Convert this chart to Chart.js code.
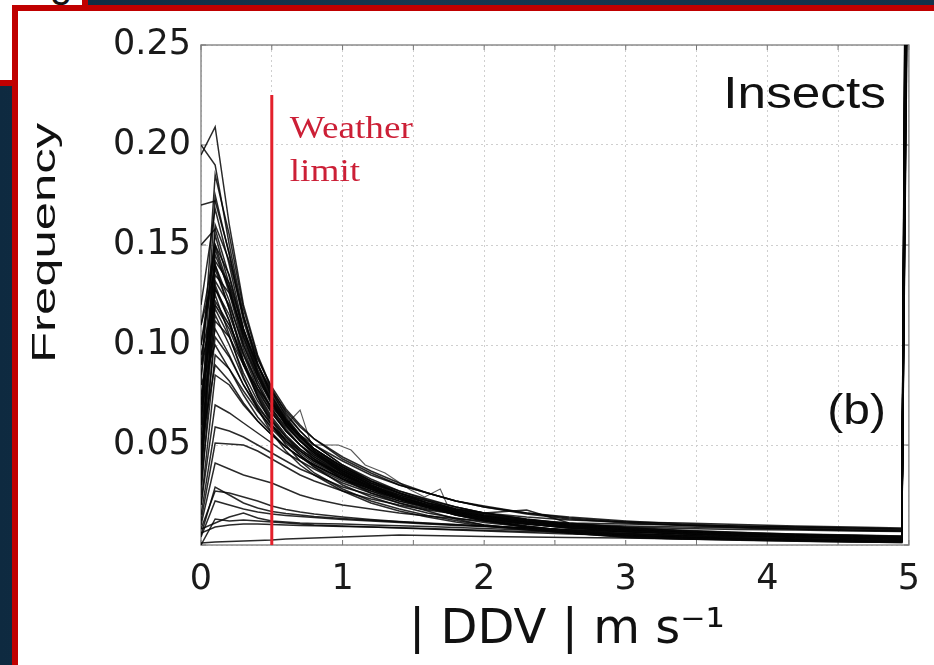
<!DOCTYPE html>
<html>
<head>
<meta charset="utf-8">
<script src="https://cdn.jsdelivr.net/npm/chart.js@4.4.1/dist/chart.umd.min.js"></script>
<style>
  html, body { margin: 0; padding: 0; width: 934px; height: 665px; overflow: hidden; }
  body { position: relative; background: linear-gradient(90deg, #0e2a40 0%, #163850 45%, #12324a 100%); }
  #backSheet { position: absolute; left: -10px; top: -10px; width: 92px; height: 90px; background: #fff;
               border-right: 6px solid #c00000; border-bottom: 6px solid #c00000; overflow: hidden; }
  #backSheet span { position: absolute; left: 60px; top: -27px; font-family: "Liberation Sans"; font-size: 40px; line-height: 40px; color: #111; }
  #sheet { position: absolute; left: 12px; top: 5px; width: 940px; height: 680px; background: #fff;
           border-left: 6px solid #c00000; border-top: 6px solid #c00000; }
  #plot { position: absolute; left: 18px; top: 11px; }
</style>
</head>
<body>
<div id="backSheet"><span>g</span></div>
<div id="sheet"></div>
<canvas id="plot" width="916" height="654"></canvas>
<script>
// |DDV| bin positions (m s-1); the last bin collects everything beyond the axis limit
const binCentres = [0, 0.1, 0.2, 0.3, 0.4, 0.5, 0.6, 0.7, 0.8, 1.0, 1.2, 1.4, 1.6, 1.8, 2.0, 2.3, 2.6, 3.0, 3.4, 3.8, 4.2, 4.6, 4.95, 4.99];

// insect profiles with a clear peak near 0.1 m s-1
const strongProfiles = [
  [0.195,0.209,0.160,0.120,0.095,0.078,0.066,0.057,0.050,0.040,0.032,0.026,0.021,0.017,0.014,0.011,0.009,0.007,0.006,0.005,0.0042,0.0036,0.003,0.40],
  [0.200,0.190,0.150,0.115,0.090,0.074,0.063,0.055,0.048,0.038,0.030,0.024,0.019,0.015,0.012,0.009,0.007,0.0055,0.0045,0.0035,0.003,0.0024,0.002,0.45],
  [0.080,0.185,0.155,0.118,0.094,0.077,0.064,0.055,0.048,0.039,0.031,0.025,0.020,0.017,0.014,0.012,0.0105,0.0095,0.009,0.0085,0.008,0.0075,0.007,0.38],
  [0.060,0.175,0.145,0.112,0.090,0.074,0.062,0.054,0.047,0.037,0.030,0.024,0.019,0.016,0.013,0.0105,0.0085,0.007,0.0058,0.005,0.0042,0.0038,0.0032,0.50],
  [0.120,0.168,0.140,0.108,0.087,0.072,0.061,0.053,0.046,0.036,0.029,0.024,0.019,0.015,0.012,0.009,0.006,0.004,0.003,0.0025,0.002,0.0015,0.0012,0.36],
  [0.050,0.160,0.142,0.114,0.093,0.079,0.068,0.060,0.053,0.043,0.036,0.030,0.026,0.022,0.019,0.016,0.014,0.012,0.0105,0.0095,0.009,0.0085,0.008,0.42],
  [0.090,0.155,0.130,0.104,0.085,0.071,0.060,0.052,0.046,0.037,0.030,0.024,0.020,0.016,0.0135,0.011,0.009,0.0072,0.006,0.005,0.0045,0.004,0.0035,0.33],
  [0.040,0.150,0.135,0.108,0.088,0.073,0.062,0.054,0.047,0.038,0.031,0.026,0.021,0.018,0.016,0.0175,0.011,0.0085,0.007,0.006,0.005,0.0045,0.004,0.47],
  [0.100,0.148,0.126,0.100,0.082,0.068,0.058,0.050,0.043,0.033,0.026,0.021,0.017,0.013,0.010,0.008,0.006,0.0045,0.0035,0.003,0.0025,0.002,0.0018,0.31],
  [0.070,0.145,0.128,0.104,0.086,0.072,0.062,0.054,0.048,0.039,0.032,0.026,0.022,0.018,0.015,0.0125,0.011,0.0105,0.010,0.0095,0.009,0.0085,0.008,0.44],
  [0.030,0.140,0.122,0.098,0.080,0.067,0.057,0.050,0.044,0.035,0.029,0.024,0.020,0.017,0.014,0.0115,0.0095,0.0078,0.0064,0.0054,0.0046,0.004,0.0036,0.39],
  [0.110,0.138,0.118,0.095,0.078,0.066,0.057,0.050,0.044,0.036,0.029,0.024,0.020,0.0165,0.0138,0.011,0.009,0.0074,0.0062,0.0052,0.0046,0.004,0.0036,0.35],
  [0.060,0.135,0.126,0.106,0.090,0.077,0.067,0.059,0.053,0.044,0.037,0.031,0.026,0.022,0.019,0.0155,0.013,0.011,0.0098,0.0088,0.008,0.0074,0.007,0.41],
  [0.085,0.130,0.112,0.091,0.075,0.063,0.054,0.047,0.042,0.034,0.028,0.023,0.019,0.016,0.0125,0.0095,0.007,0.0045,0.0035,0.0028,0.0022,0.0018,0.0015,0.37],
  [0.045,0.128,0.115,0.096,0.080,0.068,0.059,0.052,0.046,0.038,0.031,0.026,0.022,0.018,0.0155,0.0125,0.010,0.0082,0.0068,0.0057,0.005,0.0044,0.0039,0.43],
  [0.095,0.125,0.105,0.084,0.068,0.056,0.047,0.040,0.035,0.027,0.021,0.017,0.014,0.0115,0.0095,0.0075,0.006,0.0045,0.0036,0.003,0.0025,0.0021,0.0018,0.34],
  [0.035,0.122,0.110,0.092,0.077,0.066,0.057,0.050,0.045,0.037,0.030,0.025,0.021,0.0175,0.015,0.012,0.010,0.009,0.0082,0.0078,0.0075,0.007,0.0068,0.46],
  [0.075,0.118,0.104,0.086,0.072,0.062,0.054,0.048,0.043,0.035,0.029,0.024,0.020,0.017,0.0145,0.0118,0.0096,0.0078,0.0064,0.0054,0.0047,0.0041,0.0036,0.32],
  [0.055,0.115,0.100,0.083,0.070,0.060,0.052,0.046,0.041,0.034,0.028,0.023,0.019,0.016,0.0138,0.0112,0.0092,0.0075,0.0062,0.0052,0.0045,0.004,0.0035,0.40],
  [0.025,0.112,0.104,0.090,0.078,0.069,0.061,0.055,0.050,0.042,0.035,0.030,0.026,0.022,0.0195,0.016,0.0135,0.0115,0.010,0.009,0.0085,0.008,0.0075,0.48],
  [0.065,0.108,0.095,0.080,0.068,0.058,0.051,0.045,0.040,0.033,0.027,0.023,0.019,0.015,0.0125,0.0095,0.007,0.005,0.004,0.0032,0.0026,0.0021,0.0018,0.36],
  [0.040,0.104,0.094,0.080,0.069,0.060,0.053,0.047,0.042,0.035,0.029,0.024,0.020,0.017,0.0145,0.0118,0.0097,0.0079,0.0065,0.0055,0.0048,0.0042,0.0037,0.30],
  [0.080,0.100,0.088,0.075,0.064,0.056,0.049,0.044,0.039,0.032,0.027,0.022,0.0185,0.0157,0.0134,0.011,0.009,0.0074,0.0062,0.0052,0.0045,0.004,0.0035,0.38],
  [0.030,0.095,0.088,0.077,0.067,0.059,0.052,0.047,0.042,0.035,0.029,0.025,0.021,0.0178,0.016,0.014,0.0125,0.0115,0.011,0.0102,0.0095,0.009,0.0085,0.42],
  [0.050,0.090,0.082,0.071,0.062,0.055,0.049,0.044,0.040,0.033,0.028,0.023,0.0195,0.0165,0.014,0.0115,0.0094,0.0077,0.0064,0.0054,0.0047,0.0041,0.0036,0.35],
  [0.020,0.085,0.080,0.070,0.062,0.055,0.049,0.044,0.040,0.033,0.028,0.0235,0.020,0.017,0.0145,0.0118,0.0097,0.008,0.0066,0.0056,0.0049,0.0043,0.0038,0.44],
  [0.110,0.150,0.128,0.102,0.084,0.070,0.060,0.052,0.046,0.036,0.029,0.023,0.019,0.0155,0.0125,0.009,0.006,0.0038,0.003,0.0024,0.0019,0.0015,0.0012,0.37],
  [0.065,0.142,0.131,0.108,0.090,0.076,0.065,0.057,0.050,0.040,0.033,0.027,0.023,0.019,0.016,0.013,0.0105,0.0086,0.0072,0.0062,0.0055,0.005,0.0045,0.41],
  [0.040,0.132,0.120,0.100,0.084,0.071,0.061,0.054,0.048,0.039,0.032,0.027,0.0225,0.019,0.016,0.0128,0.0104,0.0085,0.007,0.006,0.0053,0.0047,0.0042,0.39],
  [0.090,0.120,0.108,0.090,0.076,0.064,0.055,0.048,0.043,0.035,0.028,0.023,0.019,0.0158,0.0132,0.0106,0.0086,0.007,0.0058,0.0049,0.0043,0.0038,0.0033,0.33],
  [0.150,0.158,0.134,0.106,0.086,0.071,0.060,0.052,0.045,0.036,0.029,0.0235,0.019,0.0158,0.013,0.0105,0.0085,0.0069,0.0057,0.0048,0.0042,0.0037,0.0032,0.40],
  [0.170,0.172,0.146,0.114,0.091,0.075,0.063,0.054,0.047,0.037,0.030,0.024,0.0195,0.016,0.0132,0.0106,0.0086,0.007,0.0058,0.0049,0.0043,0.0038,0.0033,0.43],
  [0.100,0.140,0.118,0.092,0.074,0.060,0.050,0.042,0.036,0.028,0.022,0.018,0.0148,0.0122,0.010,0.008,0.0065,0.005,0.004,0.0033,0.0028,0.0024,0.002,0.36],
  [0.070,0.128,0.112,0.090,0.074,0.062,0.052,0.045,0.039,0.030,0.024,0.0195,0.016,0.0135,0.0112,0.009,0.0073,0.0058,0.0047,0.0039,0.0033,0.0028,0.0024,0.40]
];

// flatter, weaker profiles lying under the main bundle
const weakProfiles = [
  [0.001,0.0015,0.0018,0.002,0.0022,0.0025,0.003,0.0032,0.0035,0.004,0.0045,0.005,0.0048,0.0045,0.0042,0.004,0.0038,0.0035,0.003,0.0028,0.0025,0.0022,0.002,0.30],
  [0.006,0.009,0.010,0.0105,0.0105,0.0102,0.010,0.0098,0.0096,0.0093,0.009,0.0086,0.0082,0.0078,0.0074,0.0068,0.0062,0.0055,0.0048,0.0042,0.0037,0.0032,0.0028,0.28],
  [0.008,0.011,0.014,0.016,0.0135,0.012,0.0115,0.011,0.0108,0.0105,0.010,0.0096,0.0092,0.0088,0.0083,0.0075,0.0067,0.0058,0.005,0.0043,0.0038,0.0033,0.0029,0.33],
  [0.004,0.022,0.020,0.018,0.0165,0.0155,0.0148,0.0142,0.0137,0.0128,0.012,0.0112,0.0105,0.0098,0.0092,0.0083,0.0074,0.0064,0.0056,0.0049,0.0043,0.0038,0.0033,0.35],
  [0.005,0.029,0.025,0.021,0.0185,0.0168,0.0158,0.015,0.0143,0.0133,0.0124,0.0116,0.0108,0.0101,0.0094,0.0085,0.0076,0.0066,0.0057,0.005,0.0044,0.0039,0.0034,0.31],
  [0.008,0.027,0.026,0.024,0.022,0.0195,0.0178,0.0165,0.0155,0.014,0.0128,0.0118,0.011,0.0102,0.0095,0.0086,0.0077,0.0066,0.0058,0.005,0.0044,0.0039,0.0034,0.37],
  [0.010,0.041,0.038,0.035,0.033,0.031,0.028,0.025,0.023,0.020,0.018,0.016,0.0145,0.0132,0.012,0.0105,0.0092,0.0077,0.0065,0.0056,0.0048,0.0042,0.0037,0.40],
  [0.012,0.051,0.0505,0.050,0.047,0.043,0.039,0.035,0.032,0.027,0.023,0.020,0.0175,0.0155,0.014,0.0118,0.0099,0.0082,0.0069,0.0058,0.005,0.0044,0.0038,0.34],
  [0.015,0.059,0.057,0.054,0.050,0.046,0.042,0.038,0.035,0.029,0.025,0.021,0.018,0.0158,0.014,0.0116,0.0097,0.008,0.0067,0.0057,0.0049,0.0043,0.0037,0.39],
  [0.020,0.070,0.066,0.061,0.056,0.051,0.046,0.042,0.038,0.031,0.026,0.022,0.019,0.0162,0.014,0.0115,0.0095,0.0078,0.0065,0.0055,0.0048,0.0042,0.0036,0.43],
  [0.000,0.013,0.012,0.0125,0.012,0.0115,0.011,0.0105,0.010,0.0095,0.009,0.0085,0.008,0.0075,0.007,0.0062,0.0055,0.0047,0.004,0.0034,0.003,0.0026,0.0022,0.29]
];

// one irregular profile with bumps near 0.7 and 1.7 m s-1
const outlierX = [0, 0.1, 0.2, 0.3, 0.4, 0.5, 0.6, 0.7, 0.78, 0.97, 1.06, 1.16, 1.3, 1.48, 1.58, 1.69, 1.74, 2.0, 2.3, 2.6, 3.0, 3.4, 3.8, 4.2, 4.6, 4.95, 4.99];
const outlierY = [0.070, 0.120, 0.110, 0.095, 0.082, 0.072, 0.060, 0.0675, 0.050, 0.050, 0.0475, 0.040, 0.036, 0.0275, 0.024, 0.028, 0.020, 0.016, 0.013, 0.011, 0.009, 0.0075, 0.0065, 0.0055, 0.005, 0.0045, 0.35];

// weather / insect separation threshold
const weatherLimit = 0.5;
const weatherLimitTop = 0.225;

const xTickLabels = ['0', '1', '2', '3', '4', '5'];
const yTickLabels = ['0.05', '0.10', '0.15', '0.20', '0.25'];

const profileColour = 'rgba(5,5,5,0.85)';
const toPoints = (xs, ys) => xs.map((x, i) => ({ x: x, y: ys[i] }));

const datasets = [];
datasets.push({
  label: 'Weather limit',
  data: [{ x: weatherLimit, y: 0 }, { x: weatherLimit, y: weatherLimitTop }],
  borderColor: '#e3202b', borderWidth: 3, order: -1
});
strongProfiles.concat(weakProfiles).forEach((p, i) => {
  datasets.push({ label: 'profile ' + (i + 1), data: toPoints(binCentres, p), borderColor: profileColour, borderWidth: 1.5 });
});
datasets.push({ label: 'profile ' + (datasets.length), data: toPoints(outlierX, outlierY), borderColor: 'rgba(60,60,60,0.85)', borderWidth: 1.1 });

// box, inward ticks and in-axes labels
const annotate = {
  id: 'annotate',
  beforeDatasetsDraw(chart) {
    const { ctx, chartArea: a, scales } = chart;
    ctx.save();
    ctx.strokeStyle = '#8c8c8c';
    ctx.lineWidth = 1.5;
    ctx.strokeRect(a.left, a.top, a.right - a.left, a.bottom - a.top);
    ctx.lineWidth = 1;
    ctx.strokeStyle = '#777';
    ctx.beginPath();
    scales.x.ticks.forEach(t => {
      const px = scales.x.getPixelForValue(t.value);
      ctx.moveTo(px, a.bottom); ctx.lineTo(px, a.bottom - 5);
      ctx.moveTo(px, a.top); ctx.lineTo(px, a.top + 5);
    });
    scales.y.ticks.forEach(t => {
      const py = scales.y.getPixelForValue(t.value);
      ctx.moveTo(a.left, py); ctx.lineTo(a.left + 5, py);
      ctx.moveTo(a.right, py); ctx.lineTo(a.right - 5, py);
    });
    ctx.stroke();
    ctx.restore();
  },
  afterDatasetsDraw(chart) {
    const { ctx, chartArea: a, scales } = chart;
    ctx.save();
    ctx.fillStyle = '#111';
    ctx.textAlign = 'right';
    ctx.textBaseline = 'alphabetic';
    // "Insects"
    ctx.save();
    ctx.translate(a.right - 23, a.top + 63);
    ctx.scale(1.14, 1);
    ctx.font = '45px "Liberation Sans"';
    ctx.fillText('Insects', 0, 0);
    ctx.restore();
    // panel tag
    ctx.save();
    ctx.translate(a.right - 23, scales.y.getPixelForValue(0.0605));
    ctx.scale(1.14, 1);
    ctx.font = '42px "Liberation Sans"';
    ctx.fillText('(b)', 0, 0);
    ctx.restore();
    // threshold label
    const lx = scales.x.getPixelForValue(weatherLimit) + 18;
    ctx.fillStyle = '#cc1f36';
    ctx.textAlign = 'left';
    ctx.font = '31px "Liberation Serif"';
    [['Weather', 0.2035], ['limit', 0.182]].forEach(([txt, v]) => {
      ctx.save();
      ctx.translate(lx, scales.y.getPixelForValue(v));
      ctx.scale(1.2, 1);
      ctx.fillText(txt, 0, 0);
      ctx.restore();
    });
    ctx.restore();
  },
  afterDraw(chart) {
    // y-axis title
    const { ctx } = chart;
    ctx.save();
    ctx.translate(37, 232);
    ctx.rotate(-Math.PI / 2);
    ctx.scale(1.54, 1);
    ctx.font = '33px "Liberation Sans"';
    ctx.fillStyle = '#111';
    ctx.textAlign = 'center';
    ctx.textBaseline = 'alphabetic';
    ctx.fillText('Frequency', 0, 0);
    ctx.restore();
  }
};

new Chart(document.getElementById('plot'), {
  type: 'line',
  data: { datasets: datasets },
  options: {
    responsive: false,
    animation: false,
    devicePixelRatio: 1,
    layout: { padding: { top: 34, right: 17, left: 0, bottom: 0 } },
    elements: { point: { radius: 0 }, line: { tension: 0 } },
    plugins: { legend: { display: false }, tooltip: { enabled: false } },
    scales: {
      x: {
        type: 'linear', min: 0, max: 5,
        afterFit(scale) { scale.height = 120; },
        grid: { color: '#cfcfcf', lineWidth: 1, drawTicks: false },
        border: { display: false, dash: [2, 3] },
        ticks: {
          stepSize: 0.5, padding: 14, color: '#1a1a1a', maxRotation: 0, autoSkip: false,
          font: { family: 'DejaVu Sans', size: 35 },
          callback: v => (Number.isInteger(v) ? xTickLabels[v] : '')
        },
        title: {
          display: true, text: '\u2002| DDV | m s\u207B\u00B9', color: '#111',
          font: { family: 'DejaVu Sans', size: 48 }, padding: { top: 0, bottom: 6 }
        }
      },
      y: {
        type: 'linear', min: 0, max: 0.25,
        afterFit(scale) { scale.width = 183; },
        grid: { color: '#cfcfcf', lineWidth: 1, drawTicks: false },
        border: { display: false, dash: [2, 3] },
        ticks: {
          stepSize: 0.05, padding: 10, color: '#1a1a1a',
          font: { family: 'DejaVu Sans', size: 35 },
          callback: v => { const k = Math.round(v / 0.05); return k > 0 ? yTickLabels[k - 1] : ''; }
        }
      }
    }
  },
  plugins: [annotate]
});
</script>
</body>
</html>
